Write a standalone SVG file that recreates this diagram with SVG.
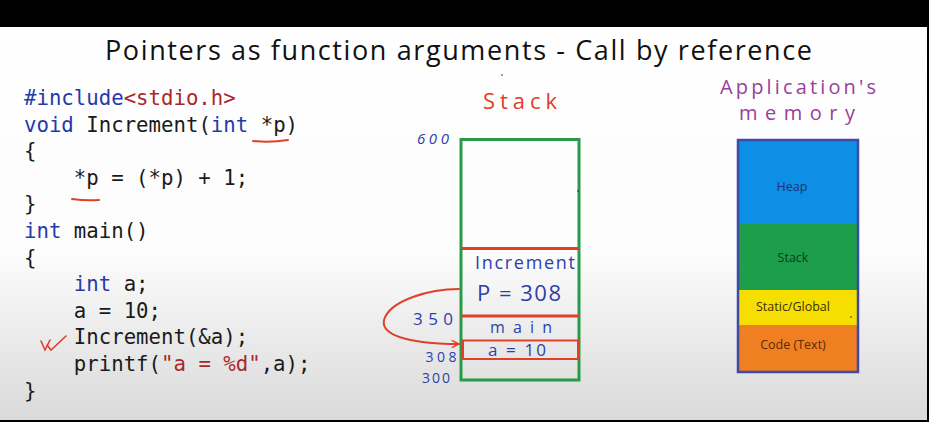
<svg xmlns="http://www.w3.org/2000/svg" width="929" height="422" viewBox="0 0 929 422">
  <defs>
    <linearGradient id="bg" x1="0" y1="0" x2="0" y2="1">
      <stop offset="0" stop-color="#ffffff"/>
      <stop offset="0.6" stop-color="#fcfcfc"/>
      <stop offset="1" stop-color="#d9d9d9"/>
    </linearGradient>
    <marker id="arrow" viewBox="0 0 10 10" refX="9" refY="5" markerWidth="9" markerHeight="9" orient="auto" markerUnits="userSpaceOnUse">
      <path d="M1 1 L9 5 L1 9" fill="none" stroke="#e0402a" stroke-width="1.6"/>
    </marker>
    <style>
      .code { font-family: "DejaVu Sans Mono", "Liberation Mono", monospace; font-size: 20.7px; fill: #1a1a1a; }
      .kw { fill: #2639a8; }
      .str { fill: #a8282a; }
      .hand { font-family: "Open Sans", "Liberation Sans", sans-serif; }
      .blue { fill: #2e3fa8; }
      .mem { font-family: "Open Sans", "Liberation Sans", sans-serif; font-size: 12.5px; text-anchor: middle; }
      .red { stroke: #e0402a; fill: none; stroke-linecap: round; }
    </style>
  </defs>

  <rect x="0" y="0" width="929" height="422" fill="url(#bg)"/>
  <rect x="0" y="0" width="929" height="27" fill="#000"/>
  <rect x="0" y="420" width="929" height="2" fill="#000"/>
  <rect x="927" y="0" width="2" height="422" fill="#000"/>

  <g id="title">
    <text class="hand" x="105" y="60" font-size="27" textLength="707" lengthAdjust="spacing" fill="#111">Pointers as function arguments - Call by reference</text>
  </g>

  <g id="code">
    <text class="code" x="24" y="105"><tspan class="kw">#include</tspan><tspan class="str">&lt;stdio.h&gt;</tspan></text>
    <text class="code" x="24" y="131.6"><tspan class="kw">void</tspan> Increment(<tspan class="kw">int</tspan> *p)</text>
    <text class="code" x="24" y="158.2">{</text>
    <text class="code" x="24" y="184.8" xml:space="preserve">    *p = (*p) + 1;</text>
    <text class="code" x="24" y="211.4">}</text>
    <text class="code" x="24" y="238"><tspan class="kw">int</tspan> main()</text>
    <text class="code" x="24" y="264.6">{</text>
    <text class="code" x="24" y="291.2" xml:space="preserve">    <tspan class="kw">int</tspan> a;</text>
    <text class="code" x="24" y="317.8" xml:space="preserve">    a = 10;</text>
    <text class="code" x="24" y="344.4" xml:space="preserve">    Increment(&amp;a);</text>
    <text class="code" x="24" y="371" xml:space="preserve">    printf(<tspan class="str">"a = %d"</tspan>,a);</text>
    <text class="code" x="24" y="397.6">}</text>
    <path class="red" stroke-width="2" d="M253 141 Q270 143 288 140"/>
    <path class="red" stroke-width="2" d="M72 199 Q86 201 99 200"/>
    <path class="red" stroke-width="1.6" d="M41 341 L45 350 L50 340 M47 345 L51 350 L66 336"/>
  </g>

  <g id="stack-label">
    <text class="hand" x="520" y="109" font-size="22" text-anchor="middle" fill="#e0402a" textLength="74" lengthAdjust="spacing">Stack</text>
  </g>

  <g id="stack">
    <rect x="461" y="139.5" width="118" height="240.5" fill="none" stroke="#2a9a48" stroke-width="3"/>
    <line x1="461" y1="248.5" x2="579" y2="248.5" stroke="#e0402a" stroke-width="3"/>
    <line x1="461" y1="316" x2="579" y2="316" stroke="#e0402a" stroke-width="3"/>
    <rect x="463" y="340.5" width="115" height="18.5" fill="none" stroke="#e0402a" stroke-width="2"/>
    <text class="hand blue" x="525" y="269" font-size="18" text-anchor="middle" textLength="100" lengthAdjust="spacing">Increment</text>
    <text class="hand blue" x="519" y="301" font-size="22" text-anchor="middle" textLength="84" lengthAdjust="spacing">P = 308</text>
    <text class="hand blue" x="521" y="333" font-size="16" text-anchor="middle" textLength="62" lengthAdjust="spacing">main</text>
    <text class="hand blue" x="517" y="356" font-size="17" text-anchor="middle" textLength="58" lengthAdjust="spacing">a = 10</text>
    <text class="hand blue" x="433" y="144" font-size="15" text-anchor="middle" font-style="italic" textLength="32" lengthAdjust="spacing">600</text>
    <text class="hand blue" x="433" y="325" font-size="17" text-anchor="middle" textLength="40" lengthAdjust="spacing">350</text>
    <text class="hand blue" x="441" y="362" font-size="14" text-anchor="middle" textLength="31" lengthAdjust="spacing">308</text>
    <text class="hand blue" x="436" y="383" font-size="14" text-anchor="middle" textLength="28" lengthAdjust="spacing">300</text>
  </g>

  <g id="connectors">
    <path class="red" stroke-width="2" d="M459 289 C430 289, 390 300, 384 320 C380 338, 420 344, 459 344" marker-end="url(#arrow)"/>
  </g>

  <g id="memory-label">
    <text class="hand" x="798" y="94" font-size="20" text-anchor="middle" fill="#9a3f9a" textLength="156" lengthAdjust="spacing">Application's</text>
    <text class="hand" x="797" y="120" font-size="20" text-anchor="middle" fill="#9a3f9a" textLength="116" lengthAdjust="spacing">memory</text>
  </g>

  <g id="memory">
    <rect x="738" y="140" width="120" height="84" fill="#0e8fe6"/>
    <rect x="738" y="224" width="120" height="66" fill="#1c9e4a"/>
    <rect x="738" y="290" width="120" height="35" fill="#f6df00"/>
    <rect x="738" y="325" width="120" height="47" fill="#f07f22"/>
    <rect x="738" y="140" width="120" height="232" fill="none" stroke="#3d4aa6" stroke-width="2.5"/>
    <text class="mem" x="792" y="191" fill="#1a3270">Heap</text>
    <text class="mem" x="793" y="262" fill="#103a20">Stack</text>
    <text class="mem" x="793" y="311" fill="#3a3000">Static/Global</text>
    <text class="mem" x="793" y="349" fill="#5a2a08">Code (Text)</text>
  </g>

  <g id="specks" fill="#222">
    <circle cx="502" cy="75" r="0.8"/>
    <circle cx="578" cy="191" r="0.8"/>
    <circle cx="851" cy="317" r="0.8"/>
  </g>
</svg>
